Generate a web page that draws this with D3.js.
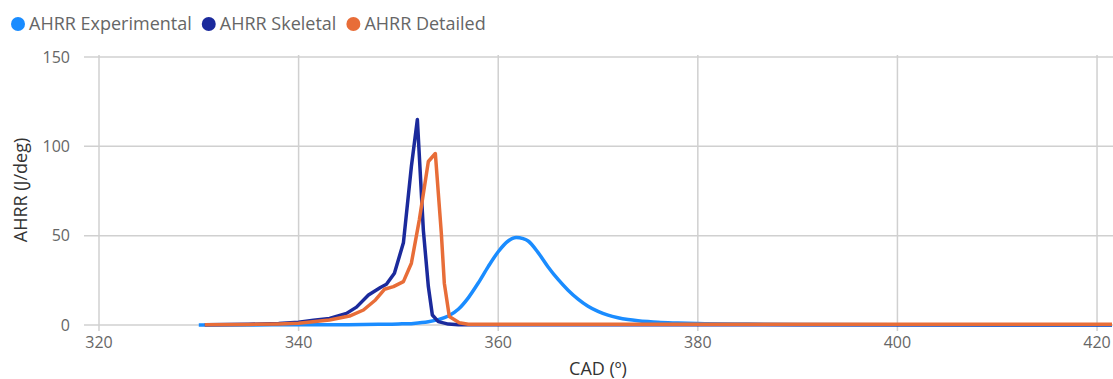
<!DOCTYPE html>
<html>
<head>
<meta charset="utf-8">
<script src="https://cdn.jsdelivr.net/npm/d3@7"></script>
<style>
  html, body { margin: 0; padding: 0; background: #fff; }
  svg { display: block; font-family: "Open Sans", "Noto Sans", sans-serif; }
</style>
</head>
<body>
<svg id="chart" width="1113" height="379"></svg>
<script>
// Apparent heat release rate vs crank angle, three series
const seriesNames = ["AHRR Experimental", "AHRR Skeletal", "AHRR Detailed"];
const seriesColors = ["#1a8cff", "#1b2a9c", "#e86d38"];

const experimentalCAD = [330, 335, 340, 345, 348, 350, 351.5, 353, 354, 355, 356, 357, 358, 359, 360, 361, 361.8, 362.5, 363, 364, 365, 366, 367, 368, 369, 370, 371, 372, 373, 374, 375, 376, 378, 380, 385, 390, 400, 410, 421.5];
const experimentalAHRR = [0, 0.05, 0.1, 0.2, 0.4, 0.6, 0.9, 1.8, 3, 5, 8.8, 15.2, 23.5, 32.7, 41, 47, 49, 48.3, 47, 40.5, 32.5, 25.5, 19.5, 14.5, 10.5, 7.6, 5.5, 4.1, 3.1, 2.4, 1.9, 1.5, 1.1, 0.8, 0.5, 0.3, 0.1, 0, 0];

const skeletalCAD = [330.6, 335, 338, 340, 341.5, 343.1, 344.8, 345.8, 347.0, 348.2, 348.8, 349.6, 350.5, 351.3, 351.9, 352.5, 353.0, 353.4, 354.0, 355.0, 356, 421.5];
const skeletalAHRR = [0.2, 0.4, 0.8, 1.5, 2.6, 3.7, 6.5, 10, 16.8, 21, 22.8, 29, 46, 88.7, 115, 53, 21.5, 5.6, 1.9, 0.5, 0.1, 0.1];

const detailedCAD = [330.6, 335, 338, 340, 343.1, 345.1, 346.5, 347.7, 348.6, 349.5, 350.5, 351.3, 352.1, 353.0, 353.7, 354.3, 354.6, 355.1, 356.1, 357, 421.5];
const detailedAHRR = [0.2, 0.3, 0.6, 1.0, 2.8, 5, 8.4, 14, 20, 21.5, 24.3, 34.6, 59, 91.5, 96, 51.4, 23.4, 4.7, 1.3, 0.4, 0.4];

const xTicks = [320, 340, 360, 380, 400, 420];
const yTicks = [0, 50, 100, 150];

const svg = d3.select("#chart");
const x = d3.scaleLinear().domain([320, 421.5]).range([99, 1112]);
const y = d3.scaleLinear().domain([0, 150]).range([325, 57]);

const gridColor = "#d0d0d0";

// horizontal grid lines with left tick stubs
svg.append("g").selectAll("line").data(yTicks).join("line")
  .attr("x1", 84).attr("x2", 1113)
  .attr("y1", d => y(d)).attr("y2", d => y(d))
  .attr("stroke", gridColor).attr("stroke-width", 1.5);

// vertical grid lines with bottom tick stubs
svg.append("g").selectAll("line").data(xTicks).join("line")
  .attr("x1", d => x(d)).attr("x2", d => x(d))
  .attr("y1", 55).attr("y2", 331)
  .attr("stroke", gridColor).attr("stroke-width", 1.5);

// tick labels
svg.append("g").selectAll("text").data(yTicks).join("text")
  .attr("x", 70).attr("y", d => y(d)).attr("dy", "0.35em")
  .attr("text-anchor", "end").attr("fill", "#666").attr("font-size", 16)
  .text(d => d);

svg.append("g").selectAll("text").data(xTicks).join("text")
  .attr("x", d => x(d)).attr("y", 348)
  .attr("text-anchor", "middle").attr("fill", "#666").attr("font-size", 16)
  .text(d => d);

// axis titles
svg.append("text").attr("x", 598).attr("y", 375)
  .attr("text-anchor", "middle").attr("fill", "#333").attr("font-size", 18)
  .text("CAD (º)");
svg.append("text")
  .attr("transform", "translate(27,190) rotate(-90)")
  .attr("text-anchor", "middle").attr("fill", "#333").attr("font-size", 18)
  .text("AHRR (J/deg)");

// series lines: measured curve smoothed, simulated curves kept piecewise linear
const smoothLine = d3.line().x(d => x(d[0])).y(d => y(d[1])).curve(d3.curveMonotoneX);
const straightLine = d3.line().x(d => x(d[0])).y(d => y(d[1]));
const series = [
  d3.zip(experimentalCAD, experimentalAHRR),
  d3.zip(skeletalCAD, skeletalAHRR),
  d3.zip(detailedCAD, detailedAHRR)
];
svg.append("g")
  .selectAll("path").data(series).join("path")
  .attr("d", (d, i) => (i === 0 ? smoothLine : straightLine)(d))
  .attr("fill", "none")
  .attr("stroke", (d, i) => seriesColors[i])
  .attr("stroke-width", 3.5)
  .attr("stroke-linejoin", "round");

// legend
const legend = svg.append("g");
let lx = 18;
seriesNames.forEach((name, i) => {
  legend.append("circle").attr("cx", lx).attr("cy", 24).attr("r", 7).attr("fill", seriesColors[i]);
  const t = legend.append("text").attr("x", lx + 11).attr("y", 24).attr("dy", "0.35em")
    .attr("fill", "#666").attr("font-size", 18).text(name);
  lx += 11 + t.node().getComputedTextLength() + 17;
});
</script>
</body>
</html>
